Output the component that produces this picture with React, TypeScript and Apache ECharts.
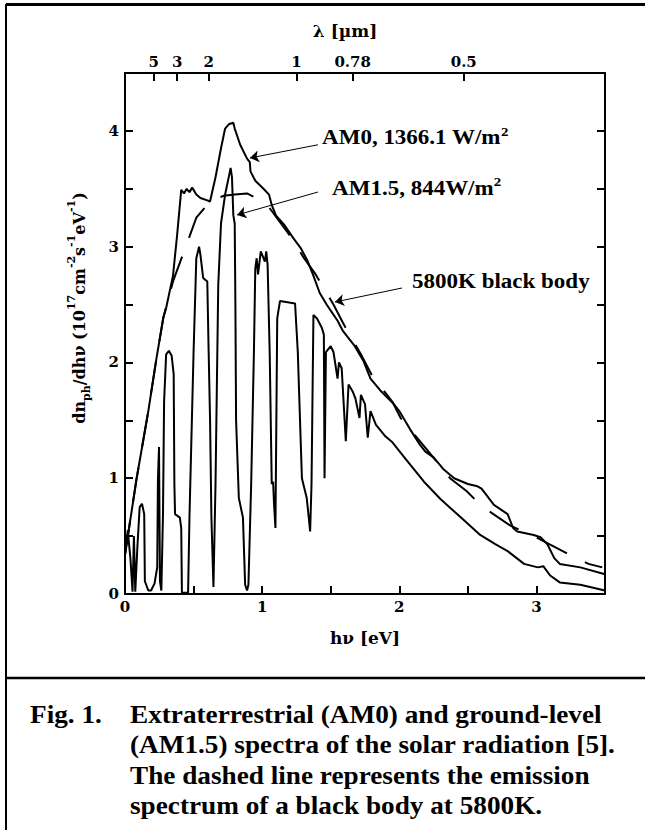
import React, { useEffect, useRef } from "react";
import * as echarts from "echarts";

// ---- Data (x: photon energy hν [eV], y: dn/dhν [10^17 cm^-2 s^-1 eV^-1]) ----
const am0: number[][] = [
  [0, 0.34], [0.085, 1.0], [0.17, 1.58], [0.23, 2.04], [0.28, 2.39], [0.3, 2.47], [0.35, 2.75],
  [0.38, 3.1], [0.41, 3.49], [0.43, 3.46], [0.45, 3.5], [0.47, 3.47], [0.49, 3.51], [0.52, 3.45],
  [0.55, 3.42], [0.6, 3.4], [0.62, 3.39], [0.66, 3.6], [0.7, 3.85], [0.73, 4.02], [0.76, 4.06],
  [0.79, 4.07], [0.8, 4.02], [0.84, 3.88], [0.89, 3.76], [0.91, 3.73], [0.915, 3.65], [0.95, 3.57],
  [1.01, 3.5], [1.05, 3.45], [1.07, 3.36], [1.1, 3.27], [1.16, 3.19], [1.23, 3.07], [1.28, 2.99],
  [1.33, 2.88], [1.37, 2.76], [1.42, 2.6], [1.47, 2.5], [1.51, 2.43], [1.55, 2.36], [1.59, 2.27],
  [1.67, 2.15], [1.74, 2.01], [1.79, 1.86], [1.86, 1.76], [1.96, 1.64], [2.0, 1.58], [2.08, 1.42],
  [2.15, 1.29], [2.19, 1.23], [2.25, 1.18], [2.32, 1.08], [2.4, 1.0], [2.5, 0.95], [2.57, 0.93],
  [2.6, 0.91], [2.69, 0.77], [2.79, 0.69], [2.83, 0.57], [2.86, 0.54], [2.98, 0.51], [3.03, 0.49],
  [3.08, 0.43], [3.13, 0.31], [3.17, 0.26], [3.32, 0.23], [3.5, 0.17],
];

const am15: number[][] = [
  [0, 0.34], [0.02, 0.55], [0.04, 0.3], [0.055, 0.02], [0.065, 0.5], [0.075, 0.02], [0.09, 0.4],
  [0.107, 0.75], [0.124, 0.78], [0.14, 0.69], [0.145, 0.11], [0.17, 0.03], [0.19, 0.03], [0.215, 0.09],
  [0.235, 0.23], [0.24, 0.98], [0.248, 1.27], [0.255, 0.11], [0.265, 0.03], [0.277, 0.69], [0.285, 1.66],
  [0.3, 2.07], [0.32, 2.1], [0.34, 2.06], [0.355, 1.9], [0.36, 0.95], [0.365, 0.69], [0.4, 0.66],
  [0.41, 0.57], [0.415, 0.01], [0.46, 0.01], [0.47, 0.66], [0.5, 2.09], [0.52, 2.9], [0.54, 3.0],
  [0.55, 2.93], [0.57, 2.73], [0.6, 2.7], [0.61, 2.09], [0.62, 1.52], [0.63, 0.66], [0.645, 0.06],
  [0.66, 0.95], [0.67, 1.81], [0.68, 2.67], [0.7, 3.2], [0.73, 3.45], [0.76, 3.62], [0.77, 3.68],
  [0.78, 3.6], [0.79, 3.27], [0.8, 3.2], [0.805, 2.5], [0.81, 1.5], [0.83, 0.83], [0.86, 0.66],
  [0.876, 0.08], [0.89, 0.03], [0.9, 0.08], [0.92, 0.95], [0.94, 2.09], [0.95, 2.81], [0.96, 2.9],
  [0.97, 2.76], [0.99, 2.96], [1.02, 2.87], [1.03, 2.96], [1.04, 2.84], [1.055, 2.09], [1.07, 0.95],
  [1.08, 0.97], [1.087, 0.77], [1.097, 0.57], [1.11, 2.38], [1.13, 2.53], [1.24, 2.51], [1.26, 2.09],
  [1.29, 1.0], [1.325, 0.83], [1.34, 0.66], [1.35, 0.54], [1.36, 0.95], [1.374, 2.41], [1.4, 2.38],
  [1.435, 2.3], [1.45, 2.24], [1.455, 1.0], [1.465, 2.09], [1.5, 2.14], [1.52, 2.09], [1.55, 1.86],
  [1.56, 2.0], [1.58, 1.95], [1.61, 1.32], [1.63, 1.81], [1.66, 1.75], [1.68, 1.69], [1.71, 1.52],
  [1.72, 1.72], [1.75, 1.64], [1.77, 1.35], [1.79, 1.58], [1.83, 1.46], [1.9, 1.36], [1.95, 1.31],
  [2.05, 1.16], [2.18, 0.97], [2.3, 0.82], [2.45, 0.66], [2.59, 0.51], [2.7, 0.43], [2.79, 0.37],
  [2.91, 0.26], [3.01, 0.23], [3.05, 0.24], [3.1, 0.16], [3.17, 0.1], [3.32, 0.08], [3.5, 0.03],
];

const blackBody: number[][] = [
  [0, 0.34], [0.085, 1.0], [0.17, 1.58], [0.23, 2.04], [0.28, 2.39], [0.35, 2.7], [0.44, 2.99],
  [0.52, 3.25], [0.62, 3.39], [0.72, 3.44], [0.8, 3.45], [0.89, 3.46], [0.99, 3.4], [1.05, 3.34],
  [1.2, 3.1], [1.3, 2.91], [1.39, 2.76], [1.52, 2.5], [1.59, 2.34], [1.72, 2.07], [1.8, 1.89],
  [1.95, 1.66], [2.01, 1.52], [2.2, 1.25], [2.37, 1.0], [2.49, 0.89], [2.6, 0.76], [2.81, 0.59],
  [2.98, 0.5], [3.24, 0.34], [3.38, 0.26], [3.48, 0.23],
];

// Top axis: wavelength ticks (positions in eV on the shared scale) and their labels in µm
const lambdaPositions = [0.21, 0.38, 0.61, 1.25, 1.66, 2.47];
const lambdaLabels = ["5", "3", "2", "1", "0.78", "0.5"];

// Annotations: text, superscript, text anchor (eV, value), arrow tail, arrow tip
const annotations = [
  { text: "AM0, 1366.1 W/m", sup: "2", at: [1.437, 3.94], tail: [1.407, 3.88], tip: [0.911, 3.766] },
  { text: "AM1.5, 844W/m", sup: "2", at: [1.51, 3.5], tail: [1.407, 3.472], tip: [0.817, 3.274] },
  { text: "5800K black body", sup: "", at: [2.093, 2.695], tail: [2.02, 2.643], tip: [1.531, 2.522] },
];

const captionLines = [
  "Extraterrestrial (AM0) and ground-level",
  "(AM1.5) spectra of the solar radiation [5].",
  "The dashed line represents the emission",
  "spectrum of a black body at 5800K.",
];

const TICK_FONT = "DejaVu Serif";
const TIMES = "Liberation Serif";

export default function App() {
  const ref = useRef<HTMLDivElement>(null);

  useEffect(() => {
    if (!ref.current) return;
    const chart = echarts.init(ref.current, undefined, { renderer: "svg" });

    const axisLineStyle = { color: "#000", width: 2 };
    const labelStyle = {
      color: "#000",
      fontFamily: TICK_FONT,
      fontWeight: "bold" as const,
      fontSize: 15,
    };
    const intLabel = (v: number) => (Math.abs(v - Math.round(v)) < 1e-9 ? String(Math.round(v)) : "");

    const option: any = {
      animation: false,
      backgroundColor: "#fff",
      grid: { left: 125, top: 73, width: 480, height: 521, containLabel: false },
      xAxis: [
        {
          type: "value",
          position: "bottom",
          min: 0,
          max: 3.5,
          interval: 0.5,
          axisLine: { show: true, onZero: false, lineStyle: axisLineStyle },
          axisTick: { show: true, inside: true, length: 8, lineStyle: axisLineStyle },
          axisLabel: { ...labelStyle, margin: 5, formatter: intLabel },
          splitLine: { show: false },
          name: "hν [eV]",
          nameLocation: "middle",
          nameGap: 35,
          nameTextStyle: { ...labelStyle, fontSize: 17 },
        },
        {
          type: "value",
          position: "top",
          min: 0,
          max: 3.5,
          axisLine: { show: true, onZero: false, lineStyle: axisLineStyle },
          axisTick: { show: true, inside: true, length: 8, lineStyle: axisLineStyle, customValues: lambdaPositions },
          axisLabel: {
            ...labelStyle,
            margin: 4,
            customValues: lambdaPositions,
            formatter: (v: number) => {
              const i = lambdaPositions.findIndex((p) => Math.abs(p - v) < 1e-6);
              return i >= 0 ? lambdaLabels[i] : "";
            },
          },
          splitLine: { show: false },
        },
      ],
      yAxis: [
        {
          type: "value",
          position: "left",
          min: 0,
          max: 4.5,
          interval: 0.5,
          axisLine: { show: true, onZero: false, lineStyle: axisLineStyle },
          axisTick: { show: true, inside: true, length: 8, lineStyle: axisLineStyle },
          axisLabel: { ...labelStyle, margin: 6, formatter: intLabel },
          splitLine: { show: false },
        },
        {
          type: "value",
          position: "right",
          min: 0,
          max: 4.5,
          interval: 0.5,
          axisLine: { show: true, onZero: false, lineStyle: axisLineStyle },
          axisTick: { show: true, inside: true, length: 8, lineStyle: axisLineStyle },
          axisLabel: { show: false },
          splitLine: { show: false },
        },
      ],
      series: [
        {
          name: "5800K black body",
          type: "line",
          data: blackBody,
          showSymbol: false,
          symbol: "none",
          lineStyle: { color: "#000", width: 2, type: [34, 20] },
          z: 2,
        },
        {
          name: "AM1.5",
          type: "line",
          data: am15,
          showSymbol: false,
          symbol: "none",
          lineStyle: { color: "#000", width: 2 },
          z: 3,
        },
        {
          name: "AM0",
          type: "line",
          data: am0,
          showSymbol: false,
          symbol: "none",
          lineStyle: { color: "#000", width: 2 },
          z: 4,
        },
        {
          name: "arrows",
          type: "lines",
          coordinateSystem: "cartesian2d",
          xAxisIndex: 0,
          yAxisIndex: 0,
          symbol: ["none", "arrow"],
          symbolSize: 9,
          lineStyle: { color: "#000", width: 1, opacity: 1 },
          data: annotations.map((a) => ({ coords: [a.tail, a.tip] })),
          z: 5,
        },
      ],
    };

    chart.setOption(option);

    const toPx = (p: number[]) => chart.convertToPixel({ xAxisIndex: 0, yAxisIndex: 0 }, p) as number[];

    const captionStyle = (t: string) => ({
      text: t,
      fill: "#000",
      fontFamily: TIMES,
      fontWeight: "bold",
      fontSize: 25,
      align: "left",
      verticalAlign: "middle",
    });

    const graphic: any[] = [
      // figure frame
      { type: "line", shape: { x1: 6, y1: 4.5, x2: 645, y2: 4.5 }, style: { stroke: "#000", lineWidth: 3 } },
      { type: "line", shape: { x1: 6, y1: 4, x2: 6, y2: 830 }, style: { stroke: "#000", lineWidth: 2 } },
      { type: "line", shape: { x1: 6, y1: 678, x2: 645, y2: 678 }, style: { stroke: "#000", lineWidth: 2.5 } },
      // top axis title
      {
        type: "text",
        x: 345,
        y: 31,
        style: {
          text: "λ [µm]",
          fill: "#000",
          fontFamily: TICK_FONT,
          fontWeight: "bold",
          fontSize: 17,
          align: "center",
          verticalAlign: "middle",
        },
      },
      // y axis title
      {
        type: "text",
        x: 79,
        y: 308,
        rotation: Math.PI / 2,
        style: {
          text: "{b|dn}{sub|ph}{b|/dhν (10}{sup|17}{b|cm}{sup|-2}{b|s}{sup|-1}{b|eV}{sup|-1}{b|)}",
          align: "center",
          verticalAlign: "middle",
          fill: "#000",
          rich: {
            b: { fontFamily: TICK_FONT, fontWeight: "bold", fontSize: 16, lineHeight: 26, verticalAlign: "middle", fill: "#000" },
            sup: { fontFamily: TICK_FONT, fontWeight: "bold", fontSize: 11, lineHeight: 13, verticalAlign: "top", fill: "#000" },
            sub: { fontFamily: TICK_FONT, fontWeight: "bold", fontSize: 11, lineHeight: 13, verticalAlign: "bottom", fill: "#000" },
          },
        },
      },
      // caption
      { type: "text", x: 30, y: 715, scaleX: 1.09, style: captionStyle("Fig. 1.") },
      ...captionLines.map((t, i) => ({
        type: "text",
        x: 130,
        y: 715 + i * 30.3,
        scaleX: 1.09,
        style: captionStyle(t),
      })),
    ];

    annotations.forEach((a) => {
      const p = toPx(a.at);
      graphic.push({
        type: "text",
        x: p[0],
        y: p[1],
        scaleX: 1.15,
        style: {
          text: a.sup ? `{m|${a.text}}{s|${a.sup}}` : `{m|${a.text}}`,
          align: "left",
          verticalAlign: "middle",
          fill: "#000",
          rich: {
            m: { fontFamily: TIMES, fontWeight: "bold", fontSize: 20, lineHeight: 26, verticalAlign: "middle", fill: "#000" },
            s: { fontFamily: TIMES, fontWeight: "bold", fontSize: 13, lineHeight: 14, verticalAlign: "top", fill: "#000" },
          },
        },
      });
    });

    chart.setOption({ graphic });

    return () => chart.dispose();
  }, []);

  return (
    <div
      ref={ref}
      style={{ position: "absolute", left: 0, top: 0, width: 645, height: 830, background: "#fff" }}
    />
  );
}
